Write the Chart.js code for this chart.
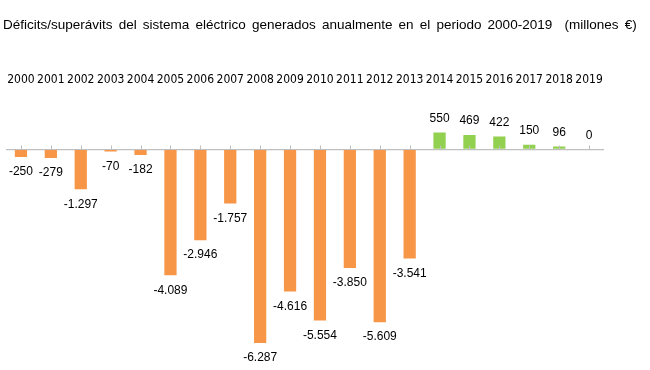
<!DOCTYPE html>
<html>
<head>
<meta charset="utf-8">
<script src="https://cdn.jsdelivr.net/npm/chart.js@4"></script>
<style>
  html, body { margin: 0; padding: 0; background: #fff; }
  #wrap { width: 650px; height: 370px; }
</style>
</head>
<body>
<div id="wrap"><canvas id="chart"></canvas></div>
<script>
const years = ['2000', '2001', '2002', '2003', '2004', '2005', '2006', '2007', '2008', '2009',
               '2010', '2011', '2012', '2013', '2014', '2015', '2016', '2017', '2018', '2019'];
const saldo = [-250, -279, -1297, -70, -182, -4089, -2946, -1757, -6287, -4616,
               -5554, -3850, -5609, -3541, 550, 469, 422, 150, 96, 0];
const titulo = 'Déficits/superávits del sistema eléctrico generados anualmente en el periodo 2000-2019  (millones €)';

const naranja = '#f79646';
const verde = '#92d050';

// formato español: punto como separador de miles
function fmt(v) {
    const s = Math.abs(v).toString().replace(/\B(?=(\d{3})+(?!\d))/g, '.');
    return (v < 0 ? '-' : '') + s;
}

// el título original está justificado: espacios más anchos
const espaciado = {
    id: 'espaciado',
    beforeDraw(chart) {
        chart.ctx.wordSpacing = '2.4px';
    }
};

// etiquetas encima / debajo de cada barra
const etiquetas = {
    id: 'etiquetas',
    afterDatasetsDraw(chart) {
        const ctx = chart.ctx;
        const meta = chart.getDatasetMeta(0);
        ctx.save();
        ctx.font = '12px "Liberation Sans", Arial, sans-serif';
        ctx.fillStyle = '#000';
        ctx.textAlign = 'center';
        ctx.textBaseline = 'middle';
        meta.data.forEach((bar, i) => {
            const v = saldo[i];
            const y = v < 0 ? bar.y + 15 : bar.y - 14;
            ctx.fillText(fmt(v), bar.x, y);
        });
        ctx.restore();
    }
};

// marcas del eje en el cero
const marcas = {
    id: 'marcas',
    afterDatasetsDraw(chart) {
        const ctx = chart.ctx;
        const x = chart.scales.x;
        const y0 = Math.round(chart.scales.y.getPixelForValue(0)) + 0.5;
        ctx.save();
        ctx.strokeStyle = '#bfbfbf';
        ctx.lineWidth = 1;
        ctx.beginPath();
        years.forEach((_, i) => {
            const px = Math.round(x.getPixelForValue(i)) + 0.5;
            ctx.moveTo(px, y0);
            ctx.lineTo(px, y0 - 4);
        });
        ctx.stroke();
        ctx.restore();
    }
};

new Chart(document.getElementById('chart'), {
    type: 'bar',
    data: {
        labels: years,
        datasets: [{
            data: saldo,
            backgroundColor: saldo.map(v => v < 0 ? naranja : verde),
            barPercentage: 0.41,
            categoryPercentage: 1
        }]
    },
    options: {
        responsive: true,
        maintainAspectRatio: false,
        animation: false,
        layout: { padding: { left: 3, right: 0, top: 0, bottom: 5 } },
        plugins: {
            legend: { display: false },
            tooltip: { enabled: false },
            title: {
                display: true,
                text: titulo,
                align: 'start',
                color: '#000',
                font: { family: '"Liberation Sans", Arial, sans-serif', size: 13.5, weight: 'normal' },
                padding: { top: 17, bottom: 27.6 }
            }
        },
        scales: {
            x: {
                position: 'top',
                grid: { display: false, drawTicks: false, tickLength: 0 },
                border: { display: false },
                ticks: {
                    color: '#000',
                    maxRotation: 0,
                    autoSkip: false,
                    padding: 1,
                    font: { family: '"Liberation Sans Narrow", "DejaVu Sans Condensed", sans-serif', size: 12 }
                },
                afterFit(scale) { scale.height = 27; }
            },
            y: {
                position: 'right',
                min: -7000,
                max: 2000,
                ticks: { display: false, stepSize: 1000 },
                border: { display: false },
                grid: {
                    drawTicks: false,
                    color: c => c.tick.value === 0 ? '#bfbfbf' : 'rgba(0,0,0,0)',
                    lineWidth: 1.2
                },
                afterFit(scale) { scale.width = 46; }
            },
            izq: {
                // hueco a la izquierda del área de trazado
                position: 'left',
                display: true,
                ticks: { display: false },
                grid: { display: false, drawTicks: false },
                border: { display: false },
                afterFit(scale) { scale.width = 3; }
            }
        }
    },
    plugins: [espaciado, etiquetas, marcas]
});
</script>
</body>
</html>
